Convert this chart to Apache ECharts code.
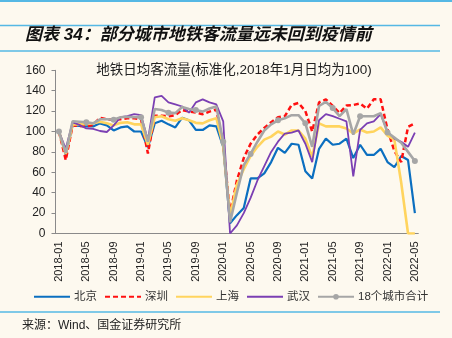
<!DOCTYPE html>
<html><head><meta charset="utf-8">
<script src="https://cdn.jsdelivr.net/npm/echarts@6/dist/echarts.min.js"></script>
<style>html,body{margin:0;padding:0;background:#FDF9EF;}#c{width:452px;height:338px;}</style>
</head><body><div id="c"></div>
<script>
const months = ['2018-01','2018-02','2018-03','2018-04','2018-05','2018-06','2018-07','2018-08','2018-09','2018-10','2018-11','2018-12',
'2019-01','2019-02','2019-03','2019-04','2019-05','2019-06','2019-07','2019-08','2019-09','2019-10','2019-11','2019-12',
'2020-01','2020-02','2020-03','2020-04','2020-05','2020-06','2020-07','2020-08','2020-09','2020-10','2020-11','2020-12',
'2021-01','2021-02','2021-03','2021-04','2021-05','2021-06','2021-07','2021-08','2021-09','2021-10','2021-11','2021-12',
'2022-01','2022-02','2022-03','2022-04','2022-05'];
const beijing = [100,77,106,105.5,105,105,108,106,101,104,105,100,
100,84.5,108,110.5,107,104,113.5,111,101.5,101.5,106,105,
85,10,18,25,54,54,59,70,84,79,88,87,
61,54,83,93,87,88,93,74,87,77,77,83,
70,65,76,72,20];
const shenzhen = [100,72,106,105.5,105,106.5,113.5,112,111.5,112,113,113,
112,78.5,115.5,115.5,115,116,121,119.5,118.5,117,119.5,121.5,
87,20,52,74,88,97,103.5,109,114,115,126,128,
120,100,128.5,131.5,125,118,125.5,126,127.5,122.5,131.5,131.5,
102,81,70,104.5,108];
const shanghai = [100,78,107,107,107.5,108,109.5,108,106,108.5,109,107,
107,87,114,115,112,110.5,113,111,108.5,108,111,113,
86,17,48,63,76,85,92,95,100,97,101,101,
93,75,108,105,105,105,103,98,102,99,100,104,
96,92,50,0,0];
const wuhan = [100,83,109,106.5,103,102.5,100.5,99.5,106,114,115,117,
116,91.5,133.5,135,128.5,126.5,124.5,118.5,128.5,131.5,128.5,126.5,
110,0,8,20,35,52,66,80,90,98,99,101,
88,70,111,117,115,112.5,110,56,101.5,108,110,117,
100,93,90,85,99];
const total18 = [100,79,110,109.5,109,108,112,112,111.5,114,114.5,114,
114,90,122,121,118.5,118,124,122,121,119.5,122.5,124.5,
90,11,40,67,78,90,101,107,111,113,116,116,
108,85,125,129,123,115,122,97,115,115,115,118,
99,94,89,80,71];
const seriesNames = ['北京','深圳','上海','武汉','18个城市合计'];
const yTicks = [0,20,40,60,80,100,120,140,160];

const FONT = 'Liberation Sans, Noto Sans CJK SC, sans-serif';
const chart = echarts.init(document.getElementById('c'));
const lineBlue = '#55B8E4';
const hideSym = {opacity: 0};
chart.setOption({
  animation: false,
  backgroundColor: '#FDF9EF',
  textStyle: {fontFamily: FONT},
  grid: {left: 55.5, right: 33.7, top: 70.3, bottom: 104.5, containLabel: false},
  legend: {
    data: [
      {name: seriesNames[0], itemStyle: hideSym},
      {name: seriesNames[1], itemStyle: hideSym},
      {name: seriesNames[2], itemStyle: hideSym},
      {name: seriesNames[3], itemStyle: hideSym},
      {name: seriesNames[4]}
    ],
    left: 28, top: 286, itemWidth: 36, itemHeight: 7, itemGap: 7,
    textStyle: {fontSize: 11.5, color: '#333', fontFamily: FONT, padding: [0,0,0,-1]}
  },
  xAxis: {
    type: 'category', data: months, boundaryGap: true,
    axisLine: {lineStyle: {color: '#8A8A8A', width: 1}},
    axisTick: {interval: 3, length: 4, lineStyle: {color: '#8A8A8A'}},
    axisLabel: {interval: 3, rotate: 90, fontSize: 11, color: '#222', margin: 8, fontFamily: FONT}
  },
  yAxis: {
    type: 'value', min: yTicks[0], max: yTicks[yTicks.length-1], interval: 20,
    axisLine: {show: true, lineStyle: {color: '#8A8A8A', width: 1}},
    axisTick: {show: true, length: 4, lineStyle: {color: '#8A8A8A'}},
    splitLine: {show: false},
    axisLabel: {fontSize: 12, color: '#222', margin: 10, fontFamily: FONT}
  },
  series: [
    {name: seriesNames[0], type: 'line', data: beijing, symbol: 'none', color: '#0B6FC0', lineStyle: {width: 2.2, color: '#0B6FC0'}},
    {name: seriesNames[1], type: 'line', data: shenzhen, symbol: 'none', color: '#FF1010', lineStyle: {width: 2.5, color: '#FF1010', type: [5,3]}},
    {name: seriesNames[2], type: 'line', data: shanghai, symbol: 'none', color: '#FFD45E', lineStyle: {width: 2.6, color: '#FFD45E'}},
    {name: seriesNames[3], type: 'line', data: wuhan, symbol: 'none', color: '#7B3FB3', lineStyle: {width: 1.8, color: '#7B3FB3'}},
    {name: seriesNames[4], type: 'line', data: total18, symbol: 'circle', symbolSize: 6, showSymbol: true, color: '#A6A6A6',
      itemStyle: {color: '#A6A6A6'}, lineStyle: {width: 2.6, color: '#A6A6A6'}}
  ],
  graphic: [
    {type: 'rect', shape: {x: 0, y: 0, width: 452, height: 2}, style: {fill: lineBlue}},
    {type: 'line', shape: {x1: 0, y1: 25.5, x2: 440, y2: 25.5}, style: {stroke: lineBlue, lineWidth: 1.5}},
    {type: 'text', x: 25, y: 35.5, style: {text: '图表 34：部分城市地铁客流量远未回到疫情前', font: 'italic bold 17px Liberation Sans, Noto Sans CJK SC, sans-serif', fill: '#111', verticalAlign: 'middle'}},
    {type: 'line', shape: {x1: 0, y1: 51, x2: 440, y2: 51}, style: {stroke: lineBlue, lineWidth: 1.5}},
    {type: 'text', x: 234, y: 70, style: {text: '地铁日均客流量(标准化,2018年1月日均为100)', font: '13.5px Liberation Sans, Noto Sans CJK SC, sans-serif', fill: '#222', align: 'center', verticalAlign: 'middle'}},
    {type: 'line', shape: {x1: 0, y1: 312, x2: 440, y2: 312}, style: {stroke: lineBlue, lineWidth: 1.5}},
    {type: 'text', x: 22, y: 326, style: {text: '来源：Wind、国金证券研究所', font: '12px Liberation Sans, Noto Sans CJK SC, sans-serif', fill: '#222', verticalAlign: 'middle'}}
  ]
});
</script></body></html>
